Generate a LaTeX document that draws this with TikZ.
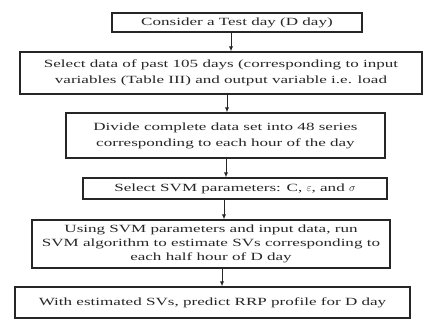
\documentclass[tikz,border=0pt]{standalone}
\usepackage{fontspec}
\setmainfont{Liberation Serif}[FakeStretch=1.55]
\usetikzlibrary{arrows.meta}
\begin{document}
\begin{tikzpicture}[x=1pt,y=1pt,
  box/.style={draw=black!85,line width=1.1pt,inner sep=0pt,align=center,
    font=\fontsize{11}{16}\selectfont,text=black!85},
  conn/.style={draw=black!85,line width=0.9pt,-{Latex[length=5pt,width=4pt]}}]
\useasboundingbox (0,0) rectangle (427,325);
\node[box,minimum width=250,minimum height=19] (b1) at (237,302.5) {Consider a Test day (D day)};
\node[box,minimum width=402,minimum height=42] (b2) at (221,252) {Select data of past 105 days (corresponding to input\\variables (Table III) and output variable i.e. load};
\node[box,minimum width=319,minimum height=45] (b3) at (225.5,189.5) {Divide complete data set into 48 series\\corresponding to each hour of the day};
\node[box,minimum width=304,minimum height=21] (b4) at (235,136.5) {Select SVM parameters: C, $\varepsilon$, and $\sigma$};
\node[box,minimum width=358,minimum height=48,font=\fontsize{11}{14}\selectfont] (b5) at (211,81) {Using SVM parameters and input data, run\\SVM algorithm to estimate SVs corresponding to\\each half hour of D day};
\node[box,minimum width=395,minimum height=31] (b6) at (212.5,22.5) {With estimated SVs, predict RRP profile for D day};
\coordinate (a1) at (231,0);
\coordinate (a2) at (227,0);
\coordinate (a3) at (226,0);
\coordinate (a4) at (224,0);
\coordinate (a5) at (222,0);
\draw[conn] (b1.south -| a1) -- (b2.north -| a1);
\draw[conn] (b2.south -| a2) -- (b3.north -| a2);
\draw[conn] (b3.south -| a3) -- (b4.north -| a3);
\draw[conn] (b4.south -| a4) -- (b5.north -| a4);
\draw[conn] (b5.south -| a5) -- (b6.north -| a5);
\end{tikzpicture}
\end{document}
